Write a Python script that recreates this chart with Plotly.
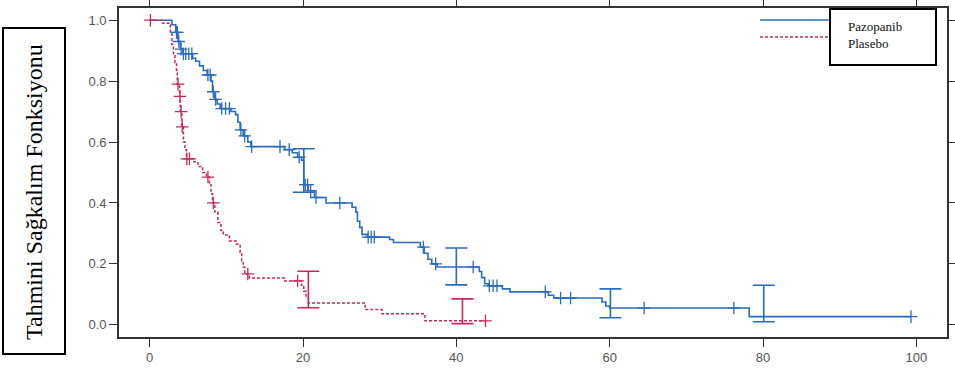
import plotly.graph_objects as go
import bisect

# ---------------- data ----------------
# Pazopanib Kaplan-Meier step curve (time in months, survival probability)
paz_t = [0, 2.9, 3.4, 3.7, 4.0, 4.3, 5.6, 6.0, 6.5, 7.0, 7.5, 8.0, 8.2, 8.5, 8.8, 9.2,
         10.6, 11.2, 11.5, 11.8, 12.2, 12.8, 13.2, 17.6, 18.6, 19.3, 19.8, 20.1, 20.7,
         21.5, 23.0, 26.4, 26.9, 27.1, 27.4, 27.7, 28.4, 31.3, 31.8, 35.3, 35.8, 36.3,
         36.8, 37.5, 43.0, 43.3, 43.7, 44.2, 46.0, 47.0, 52.0, 52.7, 59.0, 59.5, 60.0,
         78.2, 99.3]
paz_s = [1.0, 0.985, 0.96, 0.93, 0.905, 0.89, 0.875, 0.865, 0.85, 0.835, 0.82, 0.80,
         0.765, 0.74, 0.725, 0.71, 0.70, 0.69, 0.665, 0.64, 0.62, 0.60, 0.585, 0.575,
         0.565, 0.55, 0.54, 0.46, 0.44, 0.418, 0.40, 0.386, 0.37, 0.34, 0.32, 0.297,
         0.288, 0.28, 0.27, 0.255, 0.235, 0.215, 0.20, 0.19, 0.175, 0.155, 0.135, 0.128,
         0.118, 0.108, 0.097, 0.088, 0.075, 0.062, 0.055, 0.027, 0.027]
paz_cens = [3.5, 3.6, 3.8, 4.1, 4.4, 4.7, 5.1, 5.5, 7.6, 7.9, 8.3, 8.6, 9.4, 9.9, 10.4,
            11.9, 12.4, 13.3, 17.0, 18.2, 19.5, 20.3, 20.6, 21.0, 21.7, 24.8, 28.5,
            28.9, 29.3, 35.7, 37.3, 42.2, 44.3, 44.8, 45.3, 51.6, 53.6, 54.9, 64.5,
            76.2, 99.3]

# Plasebo Kaplan-Meier step curve
pla_t = [0, 1.7, 2.5, 2.7, 2.9, 3.1, 3.3, 3.5, 3.6, 3.9, 4.0, 4.2, 4.4, 4.6, 4.8, 5.8,
         6.3, 6.9, 7.4, 7.8, 8.0, 8.2, 8.5, 8.9, 9.3, 9.6, 10.4, 11.3, 11.8, 12.0, 12.2,
         12.4, 13.0, 17.6, 19.8, 20.1, 20.4, 20.7, 28.1, 30.3, 35.9, 43.8]
pla_s = [1.0, 0.99, 0.984, 0.957, 0.92, 0.89, 0.86, 0.835, 0.79, 0.75, 0.70, 0.65, 0.60,
         0.575, 0.545, 0.535, 0.52, 0.50, 0.485, 0.46, 0.43, 0.40, 0.37, 0.336, 0.31,
         0.295, 0.275, 0.265, 0.238, 0.21, 0.19, 0.167, 0.154, 0.144, 0.13, 0.11, 0.09,
         0.072, 0.05, 0.036, 0.013, 0.013]
pla_cens = [0.1, 3.7, 3.95, 4.1, 4.25, 4.85, 5.2, 7.6, 8.3, 12.8, 19.3, 43.8]

# 95% confidence intervals at selected times
paz_ci_t = [20.1, 40.0, 60.1, 80.1]
paz_ci_lo = [0.435, 0.131, 0.023, 0.010]
paz_ci_hi = [0.578, 0.252, 0.118, 0.130]
pla_ci_t = [20.7, 40.8]
pla_ci_lo = [0.056, 0.004]
pla_ci_hi = [0.176, 0.085]

x_ticks = [0, 20, 40, 60, 80, 100]
y_ticks = [0.0, 0.2, 0.4, 0.6, 0.8, 1.0]

series_names = ["Pazopanib", "Plasebo"]
y_title = "Tahmini Sağkalım Fonksiyonu"

BLUE = "#2a6cbf"
RED = "#c9285e"
SERIF = "Liberation Serif, Times New Roman, Times, serif"


def surv_at(ts, ss, t):
    i = bisect.bisect_right(ts, t) - 1
    return ss[max(i, 0)]


fig = go.Figure()

# step curves
fig.add_trace(go.Scatter(x=paz_t, y=paz_s, mode="lines", line=dict(color=BLUE, width=1.6, shape="hv"),
                         showlegend=False))
fig.add_trace(go.Scatter(x=pla_t, y=pla_s, mode="lines",
                         line=dict(color=RED, width=1.5, shape="hv", dash="3px,2px"),
                         showlegend=False))

# censor marks
fig.add_trace(go.Scatter(x=paz_cens, y=[surv_at(paz_t, paz_s, t) for t in paz_cens], mode="markers",
                         marker=dict(symbol="cross-thin", size=9, line=dict(color=BLUE, width=1.3)),
                         showlegend=False))
fig.add_trace(go.Scatter(x=pla_cens, y=[surv_at(pla_t, pla_s, t) for t in pla_cens], mode="markers",
                         marker=dict(symbol="cross-thin", size=9, line=dict(color=RED, width=1.3)),
                         showlegend=False))

# confidence interval bars
fig.add_trace(go.Scatter(x=paz_ci_t, y=paz_ci_lo, mode="markers", marker=dict(size=0.1, color="rgba(0,0,0,0)"),
                         error_y=dict(type="data", symmetric=False,
                                      array=[h - l for h, l in zip(paz_ci_hi, paz_ci_lo)],
                                      arrayminus=[0] * len(paz_ci_lo), color=BLUE, thickness=1.6, width=11),
                         showlegend=False))
fig.add_trace(go.Scatter(x=pla_ci_t, y=pla_ci_lo, mode="markers", marker=dict(size=0.1, color="rgba(0,0,0,0)"),
                         error_y=dict(type="data", symmetric=False,
                                      array=[h - l for h, l in zip(pla_ci_hi, pla_ci_lo)],
                                      arrayminus=[0] * len(pla_ci_lo), color=RED, thickness=1.6, width=11),
                         showlegend=False))

W, H = 955, 371
L, R, T, B = 119, 8, 8, 34
pw, ph = W - L - R, H - T - B


def px(x):
    return (x - L) / pw


def py(y):
    return (H - B - y) / ph


shapes = [
    # legend line samples
    dict(type="line", xref="paper", yref="paper", x0=px(760), x1=px(830), y0=py(20), y1=py(20),
         line=dict(color=BLUE, width=1.5)),
    dict(type="line", xref="paper", yref="paper", x0=px(760), x1=px(830), y0=py(37), y1=py(37),
         line=dict(color=RED, width=1.5, dash="3px,2px")),
    # legend box
    dict(type="rect", xref="paper", yref="paper", x0=px(830), x1=px(936), y0=py(65), y1=py(9),
         line=dict(color="black", width=2), fillcolor="white", layer="above"),
    # y title box
    dict(type="rect", xref="paper", yref="paper", x0=px(3), x1=px(65), y0=py(354), y1=py(28),
         line=dict(color="black", width=2), fillcolor="white"),
]

annotations = [
    dict(xref="paper", yref="paper", x=px(846), y=py(35), xanchor="left", yanchor="middle",
         text=series_names[0] + "<br>" + series_names[1], showarrow=False, align="left",
         font=dict(family=SERIF, size=13, color="#111")),
    dict(xref="paper", yref="paper", x=px(34), y=py(192), xanchor="center", yanchor="middle",
         text=y_title, textangle=-90, showarrow=False,
         font=dict(family=SERIF, size=24, color="black")),
]

axis_common = dict(showgrid=False, zeroline=False, showline=True, linecolor="#333", linewidth=1.6,
                   mirror="allticks", ticks="outside", ticklen=8, tickwidth=1.4, tickcolor="#333",
                   automargin=False,
                   tickfont=dict(family="Liberation Sans, Arial, sans-serif", size=13, color="#555"))

fig.update_layout(
    template="none",
    width=W, height=H,
    margin=dict(l=L, r=R, t=T, b=B, autoexpand=False),
    paper_bgcolor="white", plot_bgcolor="white",
    xaxis=dict(range=[-4, 104], tickvals=x_ticks, ticktext=[str(v) for v in x_ticks], **axis_common),
    yaxis=dict(range=[-0.04, 1.04], tickvals=y_ticks, ticktext=[f"{v:.1f}" for v in y_ticks], **axis_common),
    shapes=shapes, annotations=annotations, showlegend=False,
)

fig.write_html("out.html", config={"displayModeBar": False},
               post_script="document.body.style.margin='0';document.body.style.overflow='hidden';")
